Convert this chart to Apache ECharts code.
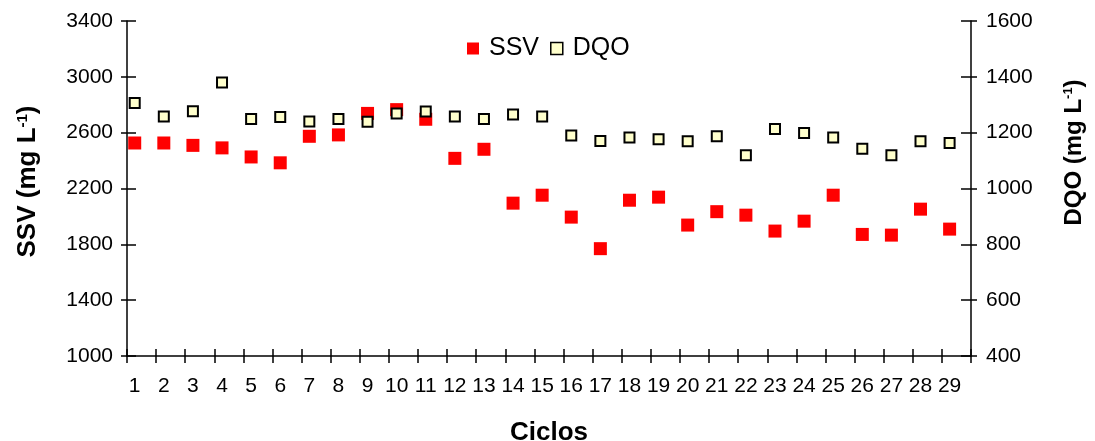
<!DOCTYPE html>
<html>
<head>
<meta charset="utf-8">
<script src="https://cdn.jsdelivr.net/npm/echarts@6/dist/echarts.min.js"></script>
<style>
  html, body { margin: 0; padding: 0; background: #fff; }
  #chart { width: 1095px; height: 441px; }
</style>
</head>
<body>
<div id="chart"></div>
<script>
// Cycle numbers along the x axis
const ciclos = [1, 2, 3, 4, 5, 6, 7, 8, 9, 10, 11, 12, 13, 14, 15, 16, 17, 18, 19, 20, 21, 22, 23, 24, 25, 26, 27, 28, 29];
// Volatile suspended solids, mg/L (left axis)
const ssv = [2526, 2526, 2509, 2491, 2426, 2384, 2574, 2584, 2738, 2765, 2696, 2416, 2481, 2095, 2152, 1995, 1769, 2116, 2138, 1938, 2034, 2009, 1895, 1966, 2152, 1871, 1866, 2052, 1909];
// Chemical oxygen demand, mg/L (right axis)
const dqo = [1306, 1258, 1277, 1380, 1249, 1256, 1240, 1249, 1239, 1269, 1276, 1258, 1249, 1265, 1258, 1190, 1170, 1183, 1176, 1169, 1187, 1119, 1213, 1199, 1183, 1142, 1119, 1169, 1163];
// Axis ranges
const ssvAxis = { min: 1000, max: 3400, interval: 400 };
const dqoAxis = { min: 400, max: 1600, interval: 200 };

const FONT = 'Liberation Sans, Arial, sans-serif';
const X_MIN = 0.735;
const X_MAX = 29.735;
const xTicks = [];
for (let v = X_MIN; v <= X_MAX + 1e-6; v += 1) xTicks.push(+v.toFixed(3));

const lineStyle = { color: '#000', width: 1.5 };
const labelStyle = { color: '#000', fontSize: 21, fontFamily: FONT, formatter: v => String(v) };

// Bold axis title with a raised "-1" exponent
function nameRich(size) {
  return {
    b: { fontSize: size, fontWeight: 'bold', fontFamily: FONT, color: '#000' },
    s: { fontSize: Math.round(size * 0.56), fontWeight: 'bold', fontFamily: FONT, color: '#000', verticalAlign: 'top', padding: [0, 0, Math.round(size * 0.42), 0] }
  };
}

const chart = echarts.init(document.getElementById('chart'), null, { renderer: 'canvas' });

chart.setOption({
  animation: false,
  backgroundColor: '#fff',
  textStyle: { fontFamily: FONT },
  grid: { left: 127, right: 124, top: 21, bottom: 85, containLabel: false, outerBoundsMode: 'none' },
  legend: {
    left: 467,
    top: 36,
    padding: 0,
    itemWidth: 12,
    itemHeight: 12,
    itemGap: 11,
    textStyle: { fontSize: 25, fontFamily: FONT, color: '#000', padding: [0, 0, 0, 5] },
    data: [
      { name: 'SSV', icon: 'rect', itemStyle: { color: '#ff0000', borderWidth: 0 } },
      { name: 'DQO', icon: 'rect', itemStyle: { color: '#ffffcc', borderColor: '#000', borderWidth: 1.5 } }
    ]
  },
  xAxis: [
    {
      type: 'value',
      min: X_MIN,
      max: X_MAX,
      position: 'bottom',
      name: 'Ciclos',
      nameLocation: 'middle',
      nameGap: 64,
      nameMoveOverlap: false,
      nameTextStyle: { fontSize: 26, fontWeight: 'bold', fontFamily: FONT, color: '#000' },
      axisLine: { show: true, onZero: false, lineStyle },
      axisTick: { show: true, inside: false, length: 7, lineStyle, customValues: xTicks },
      axisLabel: Object.assign({}, labelStyle, { margin: 20, customValues: ciclos }),
      splitLine: { show: false }
    },
    {
      type: 'value',
      min: X_MIN,
      max: X_MAX,
      position: 'bottom',
      offset: 0,
      axisLine: { show: false, onZero: false },
      axisTick: { show: true, inside: true, length: 7, lineStyle, customValues: xTicks },
      axisLabel: { show: false },
      splitLine: { show: false }
    }
  ],
  yAxis: [
    {
      type: 'value',
      position: 'left',
      min: ssvAxis.min, max: ssvAxis.max, interval: ssvAxis.interval,
      name: '{b|SSV (mg L}{s|-1}{b|)}',
      nameLocation: 'middle',
      nameRotate: 90,
      nameGap: 86,
      nameMoveOverlap: false,
      nameTextStyle: { rich: nameRich(26), padding: [0, 0, 0, 14] },
      axisLine: { show: true, onZero: false, lineStyle },
      axisTick: { show: true, inside: false, length: 6, lineStyle },
      axisLabel: Object.assign({}, labelStyle, { margin: 14 }),
      splitLine: { show: false }
    },
    {
      type: 'value',
      position: 'right',
      min: dqoAxis.min, max: dqoAxis.max, interval: dqoAxis.interval,
      name: '{b|DQO (mg L}{s|-1}{b|)}',
      nameLocation: 'middle',
      nameRotate: 90,
      nameGap: 91,
      nameMoveOverlap: false,
      nameTextStyle: { rich: nameRich(24), padding: [0, 0, 0, 72] },
      axisLine: { show: true, onZero: false, lineStyle },
      axisTick: { show: true, inside: false, length: 6, lineStyle },
      axisLabel: Object.assign({}, labelStyle, { margin: 15 }),
      splitLine: { show: false }
    },
    {
      type: 'value',
      position: 'left',
      offset: 0,
      min: ssvAxis.min, max: ssvAxis.max, interval: ssvAxis.interval,
      axisLine: { show: false, onZero: false },
      axisTick: { show: true, inside: true, length: 9, lineStyle },
      axisLabel: { show: false },
      splitLine: { show: false }
    },
    {
      type: 'value',
      position: 'right',
      offset: 0,
      min: dqoAxis.min, max: dqoAxis.max, interval: dqoAxis.interval,
      axisLine: { show: false, onZero: false },
      axisTick: { show: true, inside: true, length: 10, lineStyle },
      axisLabel: { show: false },
      splitLine: { show: false }
    }
  ],
  series: [
    {
      name: 'SSV',
      type: 'scatter',
      xAxisIndex: 0,
      yAxisIndex: 0,
      symbol: 'rect',
      symbolSize: 13,
      itemStyle: { color: '#ff0000', opacity: 1 },
      data: ciclos.map((c, i) => [c, ssv[i]]),
      z: 2
    },
    {
      name: 'DQO',
      type: 'scatter',
      xAxisIndex: 0,
      yAxisIndex: 1,
      symbol: 'rect',
      symbolSize: 10,
      itemStyle: { color: '#ffffcc', borderColor: '#000', borderWidth: 2, opacity: 1 },
      data: ciclos.map((c, i) => [c, dqo[i]]),
      z: 3
    }
  ]
});
</script>
</body>
</html>
